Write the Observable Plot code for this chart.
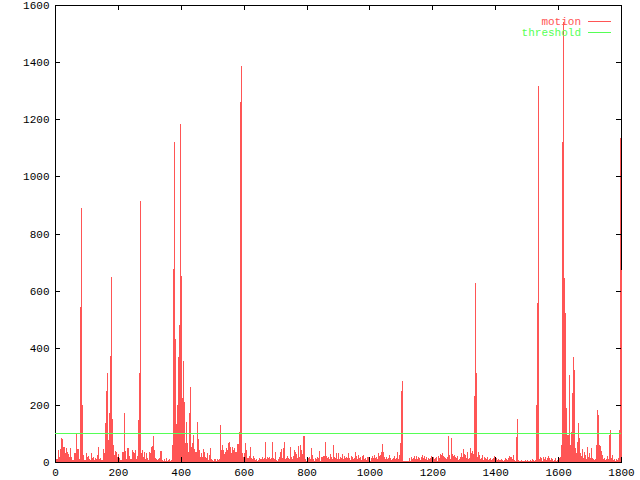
<!DOCTYPE html>
<html><head><meta charset="utf-8">
<script src="https://cdn.jsdelivr.net/npm/d3@7"></script>
<script src="https://cdn.jsdelivr.net/npm/@observablehq/plot@0.6"></script>
<style>body{margin:0;background:#fff} svg{display:block}</style>
</head><body><div id="chart"></div>
<script>
// motion value per sample (uniformly sampled frames 0..1800)
const motion = [
5,9,9,42,17,44,84,80,54,54,30,48,36,28,16,48,16,7,7,30,33,100,44,44,9,
541,890,200,
24,7,7,30,16,21,9,7,30,13,19,7,13,9,24,54,9,13,7,7,44,30,
135,250,310,77,173,371,649,149,59,
24,38,36,19,28,13,7,7,36,36,
170,
40,9,48,48,21,9,9,42,36,30,42,9,20,
147,310,913,
30,42,16,36,9,30,13,7,36,30,54,57,91,42,13,9,7,9,13,38,38,7,5,9,5,13,5,7,9,5,7,59,
675,1120,429,133,200,369,479,1185,652,225,353,211,65,141,65,36,173,264,
54,68,94,44,36,36,141,79,42,16,30,19,44,36,19,13,33,7,24,48,9,7,5,9,9,5,9,7,9,
129,
42,59,42,28,36,48,42,65,71,54,30,54,42,48,36,36,63,63,106,
1260,1385,
30,16,30,65,42,13,
13,21,54,13,10,21,13,7,9,5,
7,15,9,10,17,10,13,71,10,17,
13,19,9,13,71,13,9,36,7,5,
9,19,36,45,13,48,71,9,15,21,
13,9,54,16,9,21,42,34,27,13,
57,17,60,42,27,92,92,9,4,5,
13,17,9,48,24,9,4,13,10,17,
13,38,5,16,19,21,21,71,21,15,
19,9,27,17,10,60,17,13,30,9,
33,9,17,13,27,9,21,15,19,15,
30,13,7,21,16,9,13,34,21,9,
25,13,16,7,21,25,10,13,7,19,
16,7,5,13,22,13,25,13,16,9,
30,21,25,34,62,36,19,9,17,10,
13,25,13,6,10,13,22,9,13,34,
9,25,68,248,283,5,4,4,4,4,
4,13,5,19,9,13,22,9,22,9,
16,13,7,19,25,13,21,9,16,7,
13,9,15,21,4,16,9,13,19,5,
21,15,27,25,30,21,
19,13,9,19,92,25,10,83,27,22,
25,19,15,21,6,10,17,30,19,45,
27,25,13,36,10,15,48,30,38,27,
232,625,313,19,36,25,10,13,25,6,
19,13,10,19,6,9,13,7,9,13,
21,17,13,6,9,6,6,9,6,4,
6,13,9,6,13,21,17,17,9,25,
6,4,89,150,6,4,2,6,2,2,
4,6,4,6,4,2,6,4,9,6,
2,6,200,558,1315,10,17,13,2,17,
10,19,7,13,21,15,7,13,9,4,
7,15,4,7,4,13,19,60,1121,1540,
643,522,188,94,94,304,60,106,240,369,
322,49,30,71,135,84,30,21,45,13,
36,25,9,54,19,30,13,50,15,9,
6,9,60,182,164,60,55,40,25,9,
15,6,9,21,9,94,112,15,25,6,
9,4,9,6,15,112,1134,672
];
const threshold = 100;
const xMax = 1800;
const xTicks = [0, 200, 400, 600, 800, 1000, 1200, 1400, 1600, 1800];
const yTicks = [0, 200, 400, 600, 800, 1000, 1200, 1400, 1600];
const seriesNames = ["motion", "threshold"];
const seriesColors = ["#ff5555", "#55ff55"];

const step = xMax / (motion.length - 1);
const data = motion.map((v, i) => ({frame: i * step, motion: v}));
const font = "'Liberation Mono', 'DejaVu Sans Mono', monospace";

const chart = Plot.plot({
  width: 640, height: 480,
  marginLeft: 55, marginRight: 19, marginTop: 5, marginBottom: 18,
  style: {fontFamily: font, fontSize: "11px", background: "white", color: "black"},
  x: {domain: [0, xMax], ticks: xTicks, tickSize: 0, tickPadding: 6, tickFormat: "d", label: null},
  y: {domain: [0, 1600], ticks: yTicks, tickSize: 0, tickPadding: 6, tickFormat: "d", label: null},
  marks: [
    Plot.frame({stroke: "black"}),
    Plot.ruleX(data, {x: "frame", y1: 0, y2: "motion", stroke: seriesColors[0], strokeWidth: 1, shapeRendering: "crispEdges"}),
    Plot.ruleY([threshold], {y: d => d, stroke: seriesColors[1], strokeWidth: 1, shapeRendering: "crispEdges"}),
    Plot.tickX(xTicks, {x: d => d, insetTop: 452, stroke: "black", shapeRendering: "crispEdges"}),
    Plot.tickX(xTicks, {x: d => d, insetBottom: 452, stroke: "black", shapeRendering: "crispEdges"}),
    Plot.tickY(yTicks, {y: d => d, insetRight: 561, stroke: "black", shapeRendering: "crispEdges"}),
    Plot.tickY(yTicks, {y: d => d, insetLeft: 561, stroke: "black", shapeRendering: "crispEdges"})
  ]
});
document.getElementById("chart").appendChild(chart);

// key (gnuplot-style, inside top-right)
const svg = d3.select(chart);
const key = svg.append("g").attr("font-family", font).attr("font-size", "11px");
seriesNames.forEach((name, k) => {
  const y = 21.5 + 11 * k;
  key.append("text").attr("x", 581).attr("y", y).attr("dy", "0.36em")
    .attr("text-anchor", "end").attr("fill", seriesColors[k]).text(name);
  key.append("line").attr("x1", 588).attr("x2", 611).attr("y1", y).attr("y2", y)
    .attr("stroke", seriesColors[k]).attr("shape-rendering", "crispEdges");
});
</script>
</body></html>
